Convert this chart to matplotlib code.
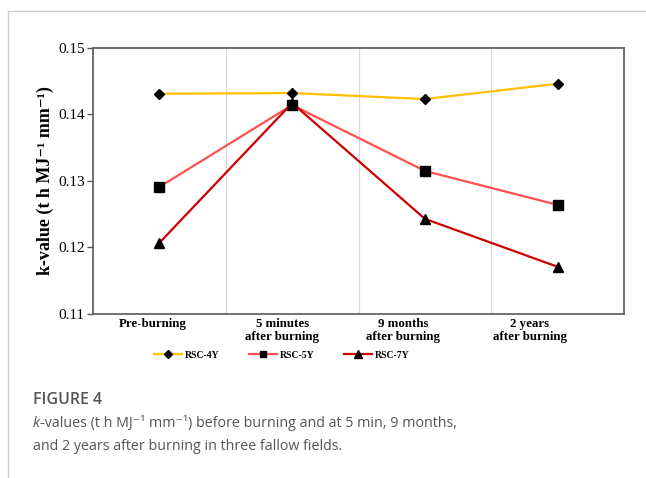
import numpy as np
import matplotlib
matplotlib.use("Agg")
from matplotlib import pyplot as plt
from matplotlib.lines import Line2D
from matplotlib.transforms import ScaledTranslation

# k-values of the three fallow fields at each sampling time
stages = ["Pre-burning", "5 minutes\nafter burning", "9 months\nafter burning",
          "2 years\nafter burning"]
rsc_4y = [0.1431, 0.1432, 0.1423, 0.1446]
rsc_5y = [0.1291, 0.1414, 0.1315, 0.1264]
rsc_7y = [0.1207, 0.1417, 0.1243, 0.1171]
yticks = [0.11, 0.12, 0.13, 0.14, 0.15]

serif = ["Liberation Serif", "DejaVu Serif"]
sans = ["Open Sans", "DejaVu Sans"]

fig = plt.figure(figsize=(6.46, 4.78), dpi=100)
ax = fig.add_axes([0.144, 0.343, 0.822, 0.557])

x = np.arange(len(stages))
ax.plot(x, rsc_4y, color="#FFC000", lw=1.6, marker="D", ms=5.5, mfc="black",
        mec="black", label="RSC-4Y")
ax.plot(x, rsc_5y, color="#FF5050", lw=1.6, marker="s", ms=6.5, mfc="black",
        mec="black", label="RSC-5Y")
ax.plot(x, rsc_7y, color="#CC0000", lw=1.6, marker="^", ms=7.5, mfc="black",
        mec="black", label="RSC-7Y")

ax.set_xlim(-0.5, 3.5)
ax.set_ylim(0.11, 0.15)
ax.set_yticks(yticks)
ax.set_yticklabels([f"{v:.2f}" for v in yticks], family=serif, fontsize=11)

ax.set_xticks(x)
ax.set_xticklabels(stages, family=serif, fontsize=9.3, fontweight="bold",
                   linespacing=1.05)
ax.tick_params(axis="x", length=0, pad=3)
ax.tick_params(axis="y", length=4, width=1, color="#595959", pad=2)
# the stage labels sit a little left of the category centres
shifts = [-7, -10, -22, -28]
for lab, dx in zip(ax.get_xticklabels(), shifts):
    lab.set_transform(lab.get_transform() + ScaledTranslation(dx / 100, 0, fig.dpi_scale_trans))

ax.set_xticks([0.5, 1.5, 2.5], minor=True)
ax.tick_params(axis="x", which="minor", length=0)
ax.grid(which="minor", axis="x", color="#d9d9d9", lw=0.9)

for s in ax.spines.values():
    s.set_color("#595959")
    s.set_linewidth(1.2)

ax.set_ylabel("k-value (t h MJ\u207b\u00b9 mm\u207b\u00b9)", family=serif,
              fontsize=13, fontweight="bold", labelpad=3)

leg = ax.legend(loc="center", bbox_to_anchor=(282 / 646, 1 - 355 / 478),
                bbox_transform=fig.transFigure, ncol=3, frameon=False,
                prop={"family": serif, "weight": "bold", "size": 7},
                handlelength=2.9, handletextpad=0.3, columnspacing=3.0,
                markerscale=0.75)

# page frame and caption
fig.add_artist(Line2D([8 / 646, 1], [1 - 11 / 478, 1 - 11 / 478],
                      color="#cccccc", lw=1, transform=fig.transFigure))
fig.add_artist(Line2D([8 / 646, 8 / 646], [0, 1 - 11 / 478],
                      color="#cccccc", lw=1, transform=fig.transFigure))

grey = "#555555"
fig.text(33 / 646, 1 - 400 / 478, "FIGURE 4", family=sans, fontsize=11.5,
         fontweight="semibold", color=grey, va="center")
k_txt = fig.text(33 / 646, 1 - 427 / 478, "k", family=sans, fontsize=10.3,
                 style="italic", color=grey, va="baseline")
ax.annotate("-values (t h MJ\u207b\u00b9 mm\u207b\u00b9) before burning and at 5 min, 9 months,",
            xy=(1, 0), xycoords=k_txt, va="bottom", ha="left",
            family=sans, fontsize=10.3, color=grey, annotation_clip=False)
fig.text(33 / 646, 1 - 450 / 478, "and 2 years after burning in three fallow fields.",
         family=sans, fontsize=10.3, color=grey, va="baseline")

fig.savefig("out.png", dpi=100)
